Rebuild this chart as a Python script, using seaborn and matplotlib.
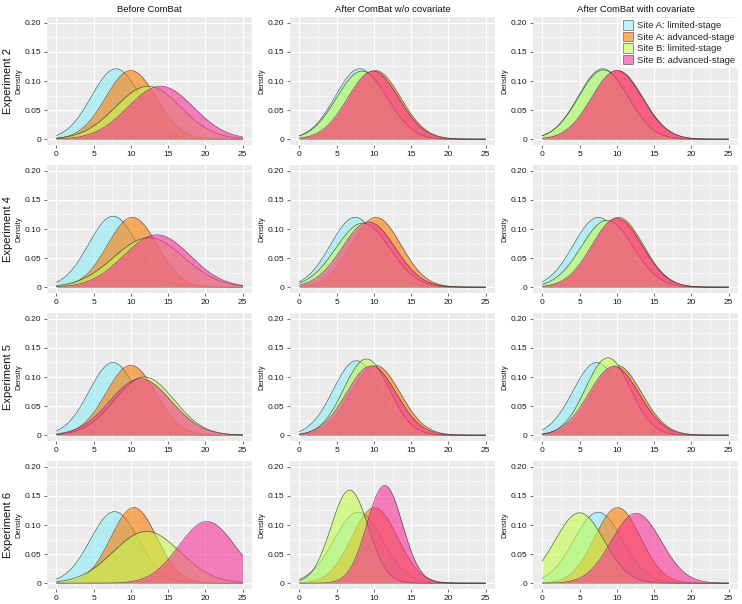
import numpy as np
import pandas as pd
import matplotlib
matplotlib.use("Agg")
import matplotlib.pyplot as plt
import seaborn as sns
from matplotlib.patches import Patch

groups = ["Site A: limited-stage", "Site A: advanced-stage",
          "Site B: limited-stage", "Site B: advanced-stage"]
experiments = ["Experiment 2", "Experiment 4", "Experiment 5", "Experiment 6"]
conditions = ["Before ComBat", "After ComBat w/o covariate", "After ComBat with covariate"]

# peak location (x) and peak density (y) of each group's curve,
# per experiment, per condition [before, w/o covariate, with covariate]
exp2_peak_x = [[8.0, 10.0, 12.3, 14.0], [8.1, 10.2, 8.4, 9.9], [8.1, 10.1, 8.2, 10.0]]
exp2_peak_y = [[0.121, 0.118, 0.091, 0.091], [0.121, 0.118, 0.117, 0.117], [0.121, 0.118, 0.119, 0.118]]
exp4_peak_x = [[7.6, 10.2, 12.4, 13.5], [7.5, 10.3, 8.5, 9.3], [7.5, 10.2, 8.7, 10.0]]
exp4_peak_y = [[0.122, 0.120, 0.085, 0.090], [0.120, 0.120, 0.110, 0.112], [0.120, 0.120, 0.115, 0.118]]
exp5_peak_x = [[7.6, 10.0, 11.8, 11.3], [7.65, 10.2, 9.0, 9.65], [7.3, 10.0, 8.8, 9.6]]
exp5_peak_y = [[0.125, 0.120, 0.100, 0.097], [0.128, 0.120, 0.131, 0.119], [0.125, 0.120, 0.133, 0.118]]
exp6_peak_x = [[7.8, 10.4, 12.1, 20.2], [7.9, 10.1, 6.75, 11.45], [7.5, 10.1, 5.0, 12.6]]
exp6_peak_y = [[0.123, 0.130, 0.089, 0.106], [0.122, 0.130, 0.160, 0.168], [0.122, 0.130, 0.121, 0.120]]

peak_x = [exp2_peak_x, exp4_peak_x, exp5_peak_x, exp6_peak_x]
peak_y = [exp2_peak_y, exp4_peak_y, exp5_peak_y, exp6_peak_y]

base_colors = ["#8FEBF8", "#FD7B00", "#C5FC4D", "#FA3098"]
ALPHA = 0.6
FONT = ["Liberation Sans", "DejaVu Sans"]

sns.set_theme(style="darkgrid")
plt.rcParams["font.family"] = FONT
plt.rcParams["axes.facecolor"] = "#EBEBEB"
plt.rcParams["grid.color"] = "white"

xs = np.linspace(0, 25, 400)

fig = plt.figure(figsize=(7.42, 6.04), dpi=100)
fig.patch.set_facecolor("white")

col_left = [47, 290, 533]
row_top = [17, 165, 313, 461]
W, H = 205, 128
FW, FH = 742, 604

for r in range(4):
    for c in range(3):
        ax = fig.add_axes([col_left[c] / FW, 1 - (row_top[r] + H) / FH, W / FW, H / FH])
        rows = []
        for g in range(4):
            mu = peak_x[r][c][g]
            h = peak_y[r][c][g]
            sd = 1.0 / (h * np.sqrt(2 * np.pi))
            ys = h * np.exp(-0.5 * ((xs - mu) / sd) ** 2)
            rows.append(pd.DataFrame({"x": xs, "density": ys, "group": groups[g]}))
        df = pd.concat(rows, ignore_index=True)
        for g in range(4):
            sub = df[df["group"] == groups[g]]
            ax.fill_between(sub["x"], 0, sub["density"], color=base_colors[g],
                            alpha=ALPHA, linewidth=0, zorder=2 + 2 * g)
            sns.lineplot(data=sub, x="x", y="density", color="#3a3a3a",
                         linewidth=0.5, alpha=0.8, legend=False, ax=ax,
                         zorder=3 + 2 * g)
        ax.set_xlim(-1.25, 26.25)
        ax.set_ylim(-0.01, 0.21)
        ax.set_xticks([0, 5, 10, 15, 20, 25])
        ax.set_xticklabels(["0", "5", "10", "15", "20", "25"])
        ax.set_yticks([0, 0.05, 0.10, 0.15, 0.20])
        ax.set_yticklabels(["0", "0.05", "0.10", "0.15", "0.20"])
        ax.set_xticks([2.5, 7.5, 12.5, 17.5, 22.5], minor=True)
        ax.set_yticks([0.025, 0.075, 0.125, 0.175], minor=True)
        ax.grid(which="major", color="white", linewidth=0.9)
        ax.grid(which="minor", color="white", linewidth=0.4)
        ax.tick_params(which="major", length=2.5, width=0.5, color="#333333",
                       labelsize=6, labelcolor="#1a1a1a", pad=1.5,
                       bottom=True, left=True)
        ax.tick_params(which="minor", length=0)
        for s in ax.spines.values():
            s.set_visible(False)
        ax.set_xlabel("")
        ax.set_ylabel("Density", fontsize=5.5, labelpad=2, color="#1a1a1a")
        if r == 0 and c == 2:
            handles = [Patch(facecolor=base_colors[g], alpha=ALPHA, edgecolor="#333333",
                             linewidth=0.6) for g in range(4)]
            leg = ax.legend(handles, groups, loc="upper right", fontsize=6.8,
                            frameon=True, framealpha=1.0, facecolor="white",
                            edgecolor="white", handlelength=1.0, handleheight=1.2,
                            handletextpad=0.4, labelspacing=0.15, borderpad=0.25,
                            borderaxespad=0.1, fancybox=False)
            leg.set_zorder(20)

for c in range(3):
    fig.text((col_left[c] + W / 2) / FW, 1 - 9 / FH, conditions[c],
             ha="center", va="center", fontsize=6.8, color="#111111")
for r in range(4):
    fig.text(8 / FW, 1 - (row_top[r] + H / 2) / FH, experiments[r],
             ha="center", va="center", rotation=90, fontsize=8, color="#111111")

fig.savefig("out.png", dpi=100, facecolor="white")
